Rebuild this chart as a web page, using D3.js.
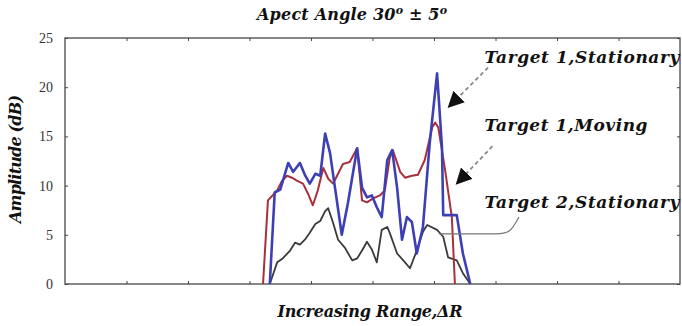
<!DOCTYPE html>
<html>
<head>
<meta charset='utf-8'>
<style>
body { margin: 0; background: #fff; }
.line { fill: none; stroke-linejoin: round; }
.axis path { display: none; }
.axis line { stroke: #444; }
.axis text { font-family: 'Liberation Serif', serif; font-size: 14px; fill: #333; }
.lbl { font-family: 'DejaVu Serif', serif; font-weight: bold; font-style: italic; fill: #111; }
</style>
<script src='https://d3js.org/d3.v7.min.js'></script>
</head>
<body>
<svg id='chart1' width='682' height='326'></svg>
<script>
// range positions (axis runs 0..100, no labels) and amplitudes in dB
var blueX = [33.3, 34.1, 35.0, 36.3, 37.1, 38.2, 39.0, 39.8, 40.7, 41.5, 42.3, 43.1, 43.9, 45.0, 46.0, 47.5, 48.3, 49.1,
  49.9, 50.7, 51.5, 52.4, 53.2, 54.0, 54.8, 55.6, 56.4, 57.2, 58.2, 59.3, 60.5, 61.3, 61.5, 63.7, 64.7, 65.9];
var blueY = [0, 9.3, 9.6, 12.3, 11.4, 12.3, 11.1, 10.2, 11.2, 11.0, 15.3, 13.3, 9.8, 5.0, 8.2, 13.8, 9.8, 8.8,
  9.0, 7.8, 6.8, 12.6, 13.6, 9.8, 4.5, 6.8, 6.3, 3.1, 5.8, 14.3, 21.4, 13.9, 7.0, 7.0, 3.1, 0];

var redX = [32.2, 33.0, 34.5, 35.3, 36.1, 36.9, 37.7, 38.7, 39.5, 40.3, 41.1, 42.0, 42.8, 43.6, 44.4, 45.2, 46.3, 47.5,
  48.3, 49.1, 50.1, 51.2, 52.0, 52.8, 53.3, 54.5, 55.3, 56.4, 57.4, 58.5, 59.7, 60.2, 60.7, 61.8, 62.9, 63.4];
var redY = [0, 8.5, 9.5, 10.5, 11.0, 10.8, 10.5, 10.2, 9.2, 8.0, 9.5, 11.8, 10.7, 10.2, 11.2, 12.2, 12.4, 13.8,
  8.5, 8.3, 8.7, 9.0, 9.5, 12.8, 13.6, 11.4, 10.8, 11.0, 11.1, 12.6, 15.9, 16.4, 15.9, 11.6, 6.8, 0];

var grayX = [33.3, 34.5, 35.4, 36.6, 37.4, 38.2, 39.0, 39.8, 40.7, 41.5, 42.3, 42.8, 43.6, 44.4, 45.5, 46.7, 47.5, 48.3,
  49.1, 49.9, 50.7, 51.5, 52.4, 52.8, 54.0, 55.0, 56.1, 57.2, 58.2, 58.9, 60.5, 61.5, 62.3, 63.7, 64.7, 65.9];
var grayY = [0, 2.2, 2.6, 3.4, 4.2, 4.0, 4.5, 5.2, 6.1, 6.4, 7.4, 7.7, 6.2, 4.5, 3.7, 2.4, 2.6, 3.4,
  4.3, 3.5, 2.2, 5.5, 5.8, 5.2, 3.1, 2.4, 1.6, 3.4, 5.3, 6.0, 5.5, 4.8, 2.7, 2.4, 1.1, 0];

var xTicks = [10, 20, 30, 40, 50, 60, 70, 80, 90];
var yTicks = [0, 5, 10, 15, 20, 25];
var seriesNames = ['Target 1,Stationary', 'Target 1,Moving', 'Target 2,Stationary'];

var chart1 = d3.select('svg');
var margin = {top: 38, right: 2, bottom: 42, left: 65};
var width = +chart1.attr('width') - margin.left - margin.right;
var height = +chart1.attr('height') - margin.top - margin.bottom;

var g = chart1.append('g').attr('transform',
    'translate(' + margin.left + ',' + margin.top + ')');

var x = d3.scaleLinear().domain([0, 100]).range([0, width]);
var y = d3.scaleLinear().domain([0, 25]).range([height, 0]);

function zip(xs, ys) { return xs.map(function(v, i) { return {x: v, y: ys[i]}; }); }

var line = d3.line().
    x(function(d) { return x(d.x); }).
    y(function(d) { return y(d.y); });

// frame
g.append('rect').
    attr('width', width).attr('height', height).
    attr('fill', 'none').attr('stroke', '#555').attr('stroke-width', 1.4);

g.append('g').attr('class', 'axis').
    call(d3.axisLeft(y).tickValues(yTicks).tickSize(-3).tickPadding(12).tickFormat(d3.format('d')));
g.append('g').attr('class', 'axis').attr('transform', 'translate(' + width + ',0)').
    call(d3.axisRight(y).tickValues(yTicks).tickSize(-3).tickFormat(''));
g.append('g').attr('class', 'axis').attr('transform', 'translate(0,' + height + ')').
    call(d3.axisBottom(x).tickValues(xTicks).tickSize(-3).tickFormat(''));
g.append('g').attr('class', 'axis').
    call(d3.axisTop(x).tickValues(xTicks).tickSize(-3).tickFormat(''));

g.append('path').datum(zip(grayX, grayY)).attr('class', 'line').
    attr('stroke', '#3a3a3a').attr('stroke-width', 1.8).attr('d', line);
g.append('path').datum(zip(redX, redY)).attr('class', 'line').
    attr('stroke', '#a8303c').attr('stroke-width', 2).attr('d', line);
g.append('path').datum(zip(blueX, blueY)).attr('class', 'line').
    attr('stroke', '#3c40b4').attr('stroke-width', 2.6).attr('d', line);

// annotations
g.append('defs').append('marker').
    attr('id', 'tri').attr('viewBox', '0 0 10 10').attr('refX', 9).attr('refY', 5).
    attr('markerWidth', 9).attr('markerHeight', 9).attr('orient', 'auto').
  append('path').attr('d', 'M0,0L10,5L0,10z').attr('fill', '#111');

var arrows = [
  {from: [68.8, 22.0], to: [62.4, 18.0]},
  {from: [69.5, 14.0], to: [63.7, 10.2]}
];
arrows.forEach(function(a) {
  g.append('line').
      attr('x1', x(a.from[0])).attr('y1', y(a.from[1])).
      attr('x2', x(a.to[0])).attr('y2', y(a.to[1])).
      attr('stroke', '#888').attr('stroke-width', 1.8).attr('stroke-dasharray', '4,3').
      attr('marker-end', 'url(#tri)');
});

var cp = d3.path();
cp.moveTo(x(73.8), y(6.8));
cp.bezierCurveTo(x(72.5), y(5.2), x(72), y(5.1), x(70), y(5.1));
cp.lineTo(x(60.8), y(5.1));
g.append('path').attr('d', cp.toString()).attr('fill', 'none').
    attr('stroke', '#777').attr('stroke-width', 1.2);

var labelPos = [[68.2, 22.5], [68.2, 15.5], [68.2, 7.7]];
var labelLen = [195, 163, 195];
seriesNames.forEach(function(s, i) {
  g.append('text').attr('class', 'lbl').
      attr('x', x(labelPos[i][0])).attr('y', y(labelPos[i][1])).
      attr('font-size', 17).attr('textLength', labelLen[i]).attr('lengthAdjust', 'spacing').
      text(s);
});

// titles
var title = chart1.append('text').attr('class', 'lbl').
    attr('x', 257).attr('y', 20).attr('font-size', 16).
    attr('textLength', 190).attr('lengthAdjust', 'spacing');
title.append('tspan').text('Apect Angle 30');
title.append('tspan').attr('dy', -6).attr('font-size', 11).text('o');
title.append('tspan').attr('dy', 6).text(' \u00b1 5');
title.append('tspan').attr('dy', -6).attr('font-size', 11).text('o');

chart1.append('text').attr('class', 'lbl').
    attr('x', 370).attr('y', 317).attr('text-anchor', 'middle').attr('font-size', 16).
    attr('textLength', 185).attr('lengthAdjust', 'spacing').
    text('Increasing Range,\u0394R');

chart1.append('text').attr('class', 'lbl').
    attr('transform', 'translate(21,159) rotate(-90)').attr('text-anchor', 'middle').attr('font-size', 16).
    attr('textLength', 128).attr('lengthAdjust', 'spacing').
    text('Amplitude (dB)');
</script>
</body>
</html>
